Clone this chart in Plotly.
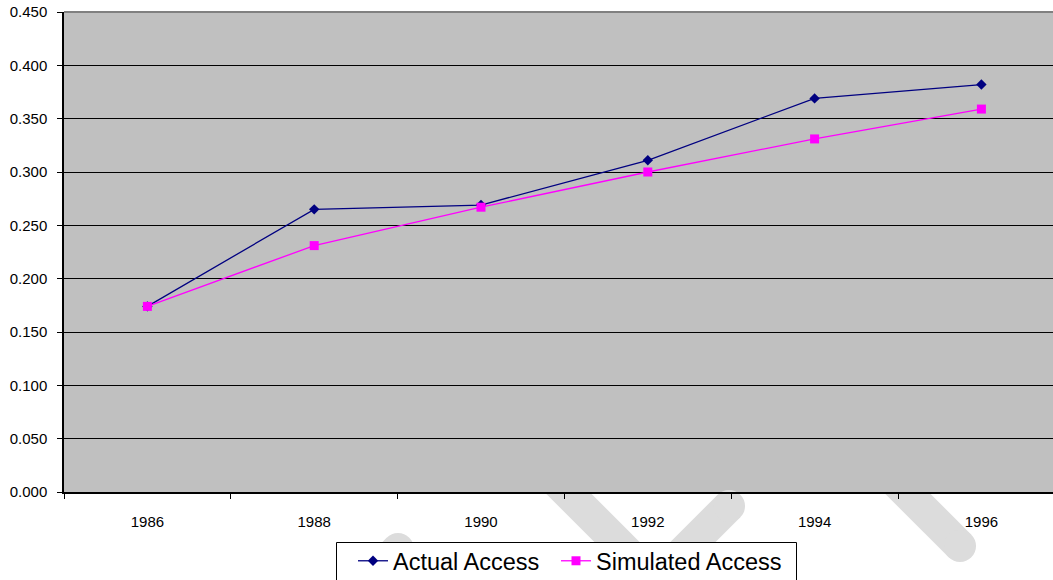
import plotly.graph_objects as go

# Category labels and the two access series
years = ["1986", "1988", "1990", "1992", "1994", "1996"]
actual_access = [0.174, 0.265, 0.269, 0.311, 0.369, 0.382]
simulated_access = [0.174, 0.231, 0.267, 0.300, 0.331, 0.359]

W, H = 1053, 580
L, R, T, B = 64, 0, 12, 88
PW, PH = W - L - R, H - T - B

x_idx = list(range(len(years)))
slot_px = 166.8
x_end = -0.5 + PW / slot_px

FONT = "Liberation Sans, Arial, sans-serif"


def px(xp):
    return (xp - L) / PW


def py(yp):
    return (H - B - yp) / PH


fig = go.Figure()

fig.add_trace(go.Scatter(
    x=x_idx, y=actual_access, name="Actual Access", mode="lines+markers",
    line=dict(color="#000080", width=1.3),
    marker=dict(symbol="diamond", size=8, color="#000080"),
    legend="legend",
))
fig.add_trace(go.Scatter(
    x=x_idx, y=simulated_access, name="Simulated Access", mode="lines+markers",
    line=dict(color="#FF00FF", width=1.3),
    marker=dict(symbol="square", size=9, color="#FF00FF"),
    legend="legend2",
))

# Light grey background strokes below the plot area
shapes = []
wm = "#DCDCDC"
hw = 16.0            # half stroke width (pixels)
d = hw * 0.7071      # offset along diagonals
hx = hw * 1.4142     # half width measured horizontally


def poly(pts):
    path = "M " + " L ".join(f"{px(a):.5f},{py(b):.5f}" for a, b in pts) + " Z"
    shapes.append(dict(type="path", path=path, xref="paper", yref="paper",
                       fillcolor=wm, line=dict(width=0), layer="below"))


def cap(cx, cy):
    shapes.append(dict(type="circle", xref="paper", yref="paper",
                       x0=px(cx - hw), x1=px(cx + hw), y0=py(cy + hw), y1=py(cy - hw),
                       fillcolor=wm, line=dict(width=0), layer="below"))


y_edge = H - B
# right-hand stroke ending with a rounded cap
poly([(906 - hx, y_edge), (906 + hx, y_edge), (960 + d, 546 - d), (960 - d, 546 + d)])
cap(960, 546)
# V-shaped pair in the middle
poly([(567 - hx, y_edge), (567 + hx, y_edge), (655 + d, 580 - d), (655 - d, 580 + d)])
poly([(729 + d, 506 + d), (729 - d, 506 - d), (635 - d, 600 - d), (635 + d, 600 + d)])
cap(729, 506)
# left stroke, mostly hidden by the legend box
poly([(398 + d, 549 + d), (398 - d, 549 - d), (360 - d, 587 - d), (360 + d, 587 + d)])
cap(398, 549)

# grey top border of the plot area
shapes.append(dict(type="line", xref="paper", yref="paper", x0=0, x1=1, y0=1, y1=1,
                   line=dict(color="#808080", width=2), layer="above"))

# legend frame
shapes.append(dict(type="rect", xref="paper", yref="paper",
                   x0=px(336.5), x1=px(796.5), y0=py(583), y1=py(542.5),
                   fillcolor="white", line=dict(color="black", width=1), layer="above"))

legend_common = dict(
    orientation="h",
    xref="container", yref="container",
    xanchor="left", yanchor="top",
    y=1 - 539 / H,
    font=dict(family=FONT, size=23.5, color="black"),
    bgcolor="rgba(0,0,0,0)", borderwidth=0,
    itemwidth=30,
)

fig.update_layout(
    width=W, height=H,
    margin=dict(l=L, r=R, t=T, b=B),
    paper_bgcolor="white",
    plot_bgcolor="#C0C0C0",
    font=dict(family=FONT, size=15, color="black"),
    shapes=shapes,
    showlegend=True,
    legend=dict(x=353 / W, **legend_common),
    legend2=dict(x=556 / W, **legend_common),
    xaxis=dict(
        range=[-0.5, x_end],
        tickmode="array", tickvals=x_idx, ticktext=years,
        ticks="", showgrid=False, zeroline=False,
        showline=True, linecolor="black", linewidth=1.5,
        ticklabelstandoff=15,
        tickfont=dict(family=FONT, size=15, color="black"),
        minor=dict(tickmode="array", tickvals=[i - 0.5 for i in range(len(years) + 1)],
                   ticks="outside", ticklen=5, tickcolor="black", tickwidth=1,
                   showgrid=False),
    ),
    yaxis=dict(
        range=[0, 0.45], tick0=0, dtick=0.05, tickformat=".3f",
        ticks="outside", ticklen=5, tickcolor="black",
        showline=True, linecolor="black", linewidth=1.5,
        showgrid=True, gridcolor="black", gridwidth=1,
        zeroline=False,
        ticklabelstandoff=7,
        tickfont=dict(family=FONT, size=15, color="black"),
    ),
)

fig.write_html("out.html")
